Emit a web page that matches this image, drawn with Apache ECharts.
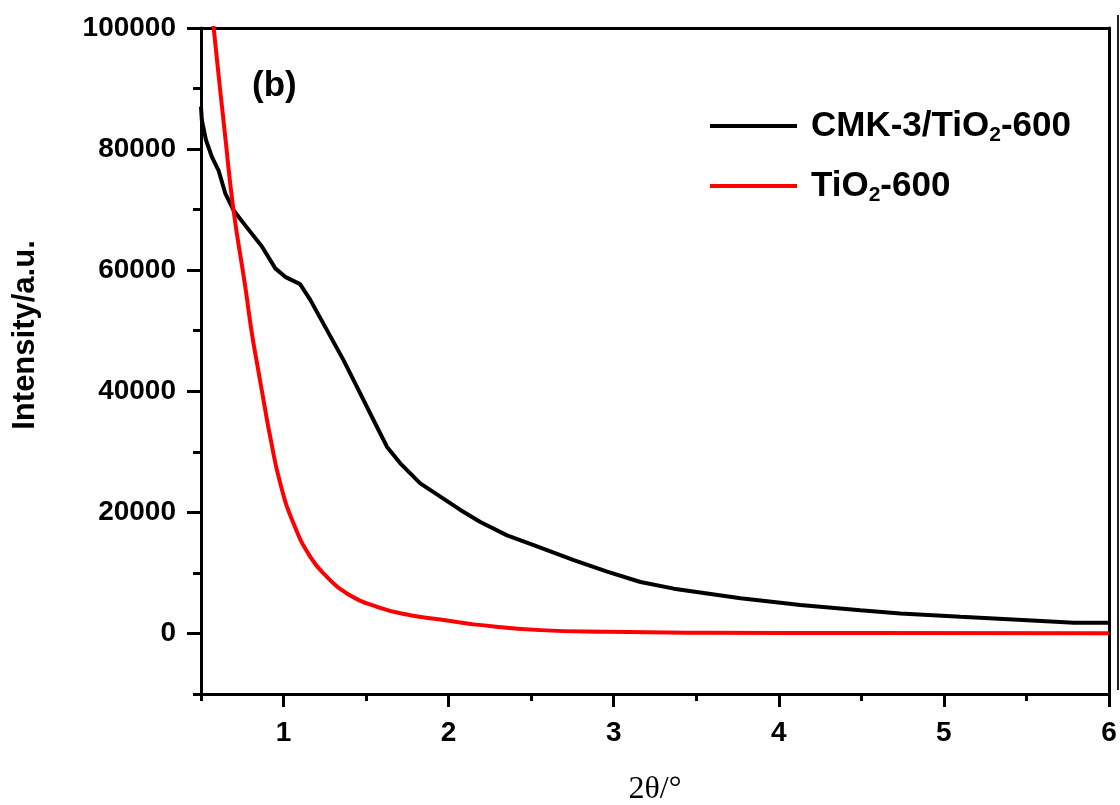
<!DOCTYPE html>
<html>
<head>
<meta charset="utf-8">
<script src="https://cdn.jsdelivr.net/npm/echarts@6/dist/echarts.min.js"></script>
<style>
html,body{margin:0;padding:0;background:#fff;}
#chart{width:1120px;height:805px;}
</style>
</head>
<body>
<div id="chart"></div>
<script>
// ---- data ----
const cmkX = [0.5, 0.505, 0.53, 0.566, 0.606, 0.647, 0.697, 0.768, 0.869, 0.95, 1.01, 1.10, 1.162, 1.263, 1.364, 1.465, 1.566, 1.627, 1.707, 1.828, 1.95, 2.071, 2.192, 2.354, 2.515, 2.758, 2.96, 3.162, 3.364, 3.566, 3.768, 3.97, 4.13, 4.494, 4.737, 5.1, 5.505, 5.788, 6.0];
const cmkY = [87000, 84800, 81500, 78700, 76500, 72700, 69900, 67400, 63900, 60300, 58900, 57700, 55100, 50100, 45100, 39600, 34100, 30800, 28100, 24800, 22600, 20400, 18400, 16200, 14600, 12100, 10200, 8500, 7400, 6600, 5800, 5200, 4700, 3850, 3300, 2750, 2200, 1750, 1750];
const tioX = [0.5, 0.55, 0.576, 0.647, 0.697, 0.768, 0.808, 0.85, 0.879, 0.919, 0.98, 1.06, 1.162, 1.263, 1.384, 1.566, 1.768, 1.95, 2.051, 2.152, 2.556, 2.96, 3.566, 4.5, 6.0];
const tioY = [121000, 107500, 100200, 82000, 69900, 57300, 49600, 43000, 38500, 32500, 24800, 18200, 12650, 9350, 6600, 4400, 3000, 2300, 1900, 1500, 550, 270, 120, 60, 30];
const seriesNames = ['CMK-3/TiO2-600', 'TiO2-600'];
const xMajorTicks = [1, 2, 3, 4, 5, 6];
const xMinorTicks = [0.5, 1.5, 2.5, 3.5, 4.5, 5.5];
const yMajorTicks = [0, 20000, 40000, 60000, 80000, 100000];
const yMinorTicks = [-10000, 10000, 30000, 50000, 70000, 90000];

const pairs = (xs, ys) => xs.map((x, i) => [x, ys[i]]);
const BOLD = 'Liberation Sans';
const lineW = 3;

const chart = echarts.init(document.getElementById('chart'), null, {renderer: 'canvas'});

const option = {
  backgroundColor: '#fff',
  animation: false,
  title: {
    text: '(b)', left: 247, top: 64,
    textStyle: {fontFamily: BOLD, fontWeight: 'bold', fontSize: 35, color: '#000'}
  },
  grid: {left: 201, right: 11, top: 28, bottom: 111, containLabel: false, outerBoundsMode: 'none'},
  legend: {
    left: 710, top: 106, orient: 'vertical', padding: 0,
    icon: 'rect', itemWidth: 87, itemHeight: 4, itemGap: 20,
    data: seriesNames,
    formatter: function (name) {
      const parts = name.split('2-');
      return '{f|' + parts[0] + '}{s|2}{a|-' + parts[1] + '}';
    },
    textStyle: {
      fontFamily: BOLD, fontWeight: 'bold', fontSize: 35, color: '#000', lineHeight: 40,
      rich: {
        f: {fontFamily: BOLD, fontWeight: 'bold', fontSize: 35, color: '#000', lineHeight: 40, padding: [0, 0, 0, 9]},
        a: {fontFamily: BOLD, fontWeight: 'bold', fontSize: 35, color: '#000', lineHeight: 40},
        s: {fontFamily: BOLD, fontWeight: 'bold', fontSize: 21, color: '#000', lineHeight: 4, verticalAlign: 'bottom'}
      }
    }
  },
  xAxis: [
    {
      type: 'value', min: 0.5, max: 6, interval: 0.5, position: 'bottom',
      name: '2θ/°', nameLocation: 'middle', nameGap: 80,
      nameTextStyle: {fontFamily: 'Liberation Serif', fontSize: 32, color: '#000'},
      axisLine: {show: true, onZero: false, lineStyle: {color: '#000', width: lineW}},
      axisTick: {show: true, customValues: xMajorTicks, length: 13, lineStyle: {color: '#000', width: lineW}},
      axisLabel: {customValues: xMajorTicks, margin: 25, fontFamily: BOLD, fontWeight: 'bold', fontSize: 28, color: '#000',
        formatter: v => String(v)},
      splitLine: {show: false}
    },
    {
      type: 'value', min: 0.5, max: 6, interval: 0.5, position: 'bottom',
      axisLine: {show: false, onZero: false},
      axisTick: {show: true, customValues: xMinorTicks, length: 7, lineStyle: {color: '#000', width: lineW}},
      axisLabel: {show: false}, splitLine: {show: false}
    },
    {
      type: 'value', min: 0.5, max: 6, interval: 0.5, position: 'top',
      axisLine: {show: true, onZero: false, lineStyle: {color: '#000', width: lineW}},
      axisTick: {show: false}, axisLabel: {show: false}, splitLine: {show: false}
    }
  ],
  yAxis: [
    {
      type: 'value', min: -10000, max: 100000, interval: 10000, position: 'left',
      axisLine: {show: true, onZero: false, lineStyle: {color: '#000', width: lineW}},
      axisTick: {show: true, customValues: yMajorTicks, length: 14, lineStyle: {color: '#000', width: lineW}},
      axisLabel: {customValues: yMajorTicks, margin: 25, fontFamily: BOLD, fontWeight: 'bold', fontSize: 28, color: '#000',
        formatter: v => String(v)},
      splitLine: {show: false}
    },
    {
      type: 'value', min: -10000, max: 100000, interval: 10000, position: 'left',
      axisLine: {show: false, onZero: false},
      axisTick: {show: true, customValues: yMinorTicks, length: 8, lineStyle: {color: '#000', width: lineW}},
      axisLabel: {show: false}, splitLine: {show: false}
    },
    {
      type: 'value', min: -10000, max: 100000, interval: 10000, position: 'right',
      axisLine: {show: true, onZero: false, lineStyle: {color: '#000', width: lineW}},
      axisTick: {show: false}, axisLabel: {show: false}, splitLine: {show: false}
    }
  ],
  graphic: [
    {
      type: 'text', x: 25, y: 335, rotation: Math.PI / 2,
      style: {text: 'Intensity/a.u.', fontFamily: BOLD, fontWeight: 'bold', fontSize: 31, fill: '#000', align: 'center', verticalAlign: 'middle'}
    },
    {
      type: 'line', shape: {x1: 1118, y1: 15, x2: 1118, y2: 690},
      style: {stroke: '#222', lineWidth: 2}
    }
  ],
  series: [
    {
      name: seriesNames[0], type: 'line', xAxisIndex: 0, yAxisIndex: 0,
      data: pairs(cmkX, cmkY), symbol: 'none', smooth: false, clip: true,
      lineStyle: {color: '#000', width: 4}, itemStyle: {color: '#000'}
    },
    {
      name: seriesNames[1], type: 'line', xAxisIndex: 0, yAxisIndex: 0,
      data: pairs(tioX, tioY), symbol: 'none', smooth: true, clip: true,
      lineStyle: {color: '#ff0000', width: 4}, itemStyle: {color: '#ff0000'}
    }
  ]
};
chart.setOption(option);
</script>
</body>
</html>
